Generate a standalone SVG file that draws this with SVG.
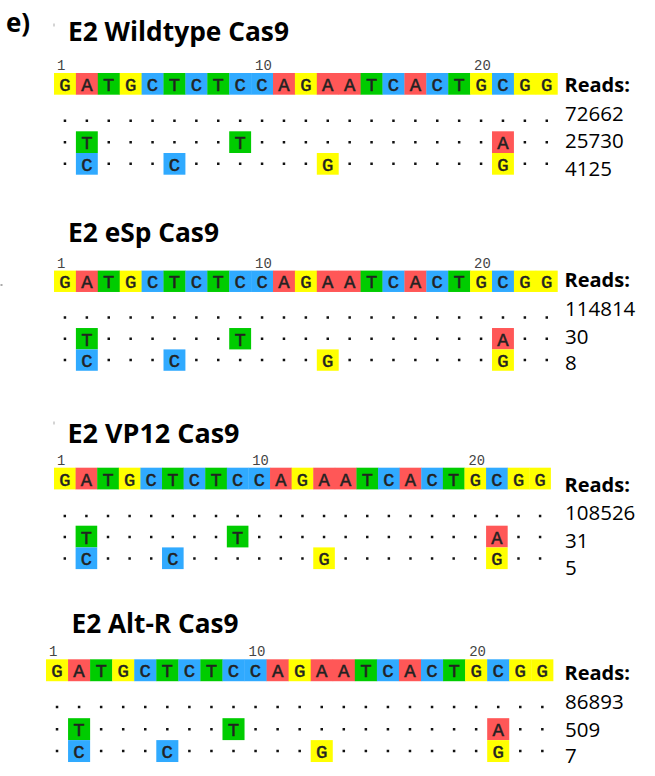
<svg xmlns="http://www.w3.org/2000/svg" width="655" height="776" viewBox="0 0 655 776">
<style>
.ti{font-family:"Open Sans","Liberation Sans",sans-serif;font-weight:700;font-size:26px;fill:#000}
.rd{font-family:"Open Sans","Liberation Sans",sans-serif;font-weight:700;font-size:20px;fill:#000}
.nm{font-family:"Open Sans","Liberation Sans",sans-serif;font-size:20.5px;fill:#000}
.ps{font-family:"Liberation Mono","DejaVu Sans Mono",monospace;font-size:14px;fill:#444}
.bs{font-family:"Liberation Mono","DejaVu Sans Mono",monospace;font-size:19px;fill:#222;stroke:#222;stroke-width:0.5;text-anchor:middle}
.Y{fill:#ffff00}.R{fill:#ff5757}.G{fill:#00cc00}.B{fill:#30aaff}
.dt{stroke:#111;stroke-width:2.5;stroke-dasharray:2.5 19.5;fill:none}
.art{fill:#aaa}
</style>
<text class="ti" x="6" y="32" font-size="25">e)</text>
<rect class="art" x="53.5" y="23.5" width="1" height="3"/>
<rect class="art" x="0.5" y="284" width="2" height="2"/>
<rect class="art" x="53.5" y="421.5" width="1" height="3"/>

<g id="labels">
<text class="ti" x="68" y="40.7" textLength="221" lengthAdjust="spacingAndGlyphs">E2 Wildtype Cas9</text>
<text class="rd" x="564.5" y="91.7">Reads:</text>
<text class="nm" x="565" y="120.5">72662</text>
<text class="nm" x="565" y="148.3">25730</text>
<text class="nm" x="565" y="175.7">4125</text>

<text class="ti" x="68" y="242.3" textLength="151" lengthAdjust="spacingAndGlyphs">E2 eSp Cas9</text>
<text class="rd" x="564.5" y="286.7">Reads:</text>
<text class="nm" x="565" y="315.7">114814</text>
<text class="nm" x="565" y="344">30</text>
<text class="nm" x="565" y="370">8</text>

<text class="ti" x="67.5" y="442.7" textLength="172" lengthAdjust="spacingAndGlyphs">E2 VP12 Cas9</text>
<text class="rd" x="564.5" y="491.7">Reads:</text>
<text class="nm" x="565" y="520">108526</text>
<text class="nm" x="565" y="548.3">31</text>
<text class="nm" x="565" y="575">5</text>

<text class="ti" x="71.5" y="632.7" textLength="167" lengthAdjust="spacingAndGlyphs">E2 Alt-R Cas9</text>
<text class="rd" x="564.5" y="680">Reads:</text>
<text class="nm" x="565" y="709">86893</text>
<text class="nm" x="565" y="736.7">509</text>
<text class="nm" x="565" y="763.3">7</text>
</g>

<g id="block1" transform="translate(54,73) scale(0.9955,1)">
<text class="ps" x="3" y="-3">1</text><text class="ps" x="202" y="-3">10</text><text class="ps" x="422" y="-3">20</text>
<rect class="Y" x="0" y="0" width="22.3" height="21.7"/><rect class="R" x="22" y="0" width="22.3" height="21.7"/><rect class="G" x="44" y="0" width="22.3" height="21.7"/><rect class="Y" x="66" y="0" width="22.3" height="21.7"/><rect class="B" x="88" y="0" width="22.3" height="21.7"/><rect class="G" x="110" y="0" width="22.3" height="21.7"/><rect class="B" x="132" y="0" width="22.3" height="21.7"/><rect class="G" x="154" y="0" width="22.3" height="21.7"/><rect class="B" x="176" y="0" width="22.3" height="21.7"/><rect class="B" x="198" y="0" width="22.3" height="21.7"/><rect class="R" x="220" y="0" width="22.3" height="21.7"/><rect class="Y" x="242" y="0" width="22.3" height="21.7"/><rect class="R" x="264" y="0" width="22.3" height="21.7"/><rect class="R" x="286" y="0" width="22.3" height="21.7"/><rect class="G" x="308" y="0" width="22.3" height="21.7"/><rect class="B" x="330" y="0" width="22.3" height="21.7"/><rect class="R" x="352" y="0" width="22.3" height="21.7"/><rect class="B" x="374" y="0" width="22.3" height="21.7"/><rect class="G" x="396" y="0" width="22.3" height="21.7"/><rect class="Y" x="418" y="0" width="22.3" height="21.7"/><rect class="B" x="440" y="0" width="22.3" height="21.7"/><rect class="Y" x="462" y="0" width="22.3" height="21.7"/><rect class="Y" x="484" y="0" width="22" height="21.7"/>
<text class="bs" x="11 33 55 77 99 121 143 165 187 209 231 253 275 297 319 341 363 385 407 429 451 473 495" y="18">GATGCTCTCCAGAATCACTGCGG</text>
<line class="dt" x1="9.75" y1="47.7" x2="496.25" y2="47.7"/><line class="dt" x1="9.75" y1="69.2" x2="496.25" y2="69.2"/><line class="dt" x1="9.75" y1="90.8" x2="496.25" y2="90.8"/>
<rect class="G" x="22" y="58.3" width="22" height="21.7"/><rect class="G" x="176" y="58.3" width="22" height="21.7"/><rect class="R" x="440" y="58.3" width="22" height="21.7"/>
<text class="bs" x="33" y="76.3">T</text><text class="bs" x="187" y="76.3">T</text><text class="bs" x="451" y="76.3">A</text>
<rect class="B" x="22" y="80" width="22" height="21.7"/><rect class="B" x="110" y="80" width="22" height="21.7"/><rect class="Y" x="264" y="80" width="22" height="21.7"/><rect class="Y" x="440" y="80" width="22" height="21.7"/>
<text class="bs" x="33" y="98">C</text><text class="bs" x="121" y="98">C</text><text class="bs" x="275" y="98">G</text><text class="bs" x="451" y="98">G</text>
</g>

<g id="block2" transform="translate(54,270.6) scale(0.9955,0.985)">
<text class="ps" x="3" y="-3">1</text><text class="ps" x="202" y="-3">10</text><text class="ps" x="422" y="-3">20</text>
<rect class="Y" x="0" y="0" width="22.3" height="21.7"/><rect class="R" x="22" y="0" width="22.3" height="21.7"/><rect class="G" x="44" y="0" width="22.3" height="21.7"/><rect class="Y" x="66" y="0" width="22.3" height="21.7"/><rect class="B" x="88" y="0" width="22.3" height="21.7"/><rect class="G" x="110" y="0" width="22.3" height="21.7"/><rect class="B" x="132" y="0" width="22.3" height="21.7"/><rect class="G" x="154" y="0" width="22.3" height="21.7"/><rect class="B" x="176" y="0" width="22.3" height="21.7"/><rect class="B" x="198" y="0" width="22.3" height="21.7"/><rect class="R" x="220" y="0" width="22.3" height="21.7"/><rect class="Y" x="242" y="0" width="22.3" height="21.7"/><rect class="R" x="264" y="0" width="22.3" height="21.7"/><rect class="R" x="286" y="0" width="22.3" height="21.7"/><rect class="G" x="308" y="0" width="22.3" height="21.7"/><rect class="B" x="330" y="0" width="22.3" height="21.7"/><rect class="R" x="352" y="0" width="22.3" height="21.7"/><rect class="B" x="374" y="0" width="22.3" height="21.7"/><rect class="G" x="396" y="0" width="22.3" height="21.7"/><rect class="Y" x="418" y="0" width="22.3" height="21.7"/><rect class="B" x="440" y="0" width="22.3" height="21.7"/><rect class="Y" x="462" y="0" width="22.3" height="21.7"/><rect class="Y" x="484" y="0" width="22" height="21.7"/>
<text class="bs" x="11 33 55 77 99 121 143 165 187 209 231 253 275 297 319 341 363 385 407 429 451 473 495" y="18">GATGCTCTCCAGAATCACTGCGG</text>
<line class="dt" x1="9.75" y1="47.7" x2="496.25" y2="47.7"/><line class="dt" x1="9.75" y1="69.2" x2="496.25" y2="69.2"/><line class="dt" x1="9.75" y1="90.8" x2="496.25" y2="90.8"/>
<rect class="G" x="22" y="58.3" width="22" height="21.7"/><rect class="G" x="176" y="58.3" width="22" height="21.7"/><rect class="R" x="440" y="58.3" width="22" height="21.7"/>
<text class="bs" x="33" y="76.3">T</text><text class="bs" x="187" y="76.3">T</text><text class="bs" x="451" y="76.3">A</text>
<rect class="B" x="22" y="80" width="22" height="21.7"/><rect class="B" x="110" y="80" width="22" height="21.7"/><rect class="Y" x="264" y="80" width="22" height="21.7"/><rect class="Y" x="440" y="80" width="22" height="21.7"/>
<text class="bs" x="33" y="98">C</text><text class="bs" x="121" y="98">C</text><text class="bs" x="275" y="98">G</text><text class="bs" x="451" y="98">G</text>
</g>

<g id="block3" transform="translate(54,467.7) scale(0.982,1)">
<text class="ps" x="3" y="-3">1</text><text class="ps" x="202" y="-3">10</text><text class="ps" x="422" y="-3">20</text>
<rect class="Y" x="0" y="0" width="22.3" height="21.7"/><rect class="R" x="22" y="0" width="22.3" height="21.7"/><rect class="G" x="44" y="0" width="22.3" height="21.7"/><rect class="Y" x="66" y="0" width="22.3" height="21.7"/><rect class="B" x="88" y="0" width="22.3" height="21.7"/><rect class="G" x="110" y="0" width="22.3" height="21.7"/><rect class="B" x="132" y="0" width="22.3" height="21.7"/><rect class="G" x="154" y="0" width="22.3" height="21.7"/><rect class="B" x="176" y="0" width="22.3" height="21.7"/><rect class="B" x="198" y="0" width="22.3" height="21.7"/><rect class="R" x="220" y="0" width="22.3" height="21.7"/><rect class="Y" x="242" y="0" width="22.3" height="21.7"/><rect class="R" x="264" y="0" width="22.3" height="21.7"/><rect class="R" x="286" y="0" width="22.3" height="21.7"/><rect class="G" x="308" y="0" width="22.3" height="21.7"/><rect class="B" x="330" y="0" width="22.3" height="21.7"/><rect class="R" x="352" y="0" width="22.3" height="21.7"/><rect class="B" x="374" y="0" width="22.3" height="21.7"/><rect class="G" x="396" y="0" width="22.3" height="21.7"/><rect class="Y" x="418" y="0" width="22.3" height="21.7"/><rect class="B" x="440" y="0" width="22.3" height="21.7"/><rect class="Y" x="462" y="0" width="22.3" height="21.7"/><rect class="Y" x="484" y="0" width="22" height="21.7"/>
<text class="bs" x="11 33 55 77 99 121 143 165 187 209 231 253 275 297 319 341 363 385 407 429 451 473 495" y="18">GATGCTCTCCAGAATCACTGCGG</text>
<line class="dt" x1="9.75" y1="48.3" x2="496.25" y2="48.3"/><line class="dt" x1="9.75" y1="69.2" x2="496.25" y2="69.2"/><line class="dt" x1="9.75" y1="90.8" x2="496.25" y2="90.8"/>
<rect class="G" x="22" y="58" width="22" height="21.7"/><rect class="G" x="176" y="58" width="22" height="21.7"/><rect class="R" x="440" y="58" width="22" height="21.7"/>
<text class="bs" x="33" y="76">T</text><text class="bs" x="187" y="76">T</text><text class="bs" x="451" y="76">A</text>
<rect class="B" x="22" y="79.7" width="22" height="21.7"/><rect class="B" x="110" y="79.7" width="22" height="21.7"/><rect class="Y" x="264" y="79.7" width="22" height="21.7"/><rect class="Y" x="440" y="79.7" width="22" height="21.7"/>
<text class="bs" x="33" y="97.7">C</text><text class="bs" x="121" y="97.7">C</text><text class="bs" x="275" y="97.7">G</text><text class="bs" x="451" y="97.7">G</text>
</g>

<g id="block4" transform="translate(46,659.3) scale(1.0027,1.01)">
<text class="ps" x="3" y="-3">1</text><text class="ps" x="202" y="-3">10</text><text class="ps" x="422" y="-3">20</text>
<rect class="Y" x="0" y="0" width="22.3" height="21.7"/><rect class="R" x="22" y="0" width="22.3" height="21.7"/><rect class="G" x="44" y="0" width="22.3" height="21.7"/><rect class="Y" x="66" y="0" width="22.3" height="21.7"/><rect class="B" x="88" y="0" width="22.3" height="21.7"/><rect class="G" x="110" y="0" width="22.3" height="21.7"/><rect class="B" x="132" y="0" width="22.3" height="21.7"/><rect class="G" x="154" y="0" width="22.3" height="21.7"/><rect class="B" x="176" y="0" width="22.3" height="21.7"/><rect class="B" x="198" y="0" width="22.3" height="21.7"/><rect class="R" x="220" y="0" width="22.3" height="21.7"/><rect class="Y" x="242" y="0" width="22.3" height="21.7"/><rect class="R" x="264" y="0" width="22.3" height="21.7"/><rect class="R" x="286" y="0" width="22.3" height="21.7"/><rect class="G" x="308" y="0" width="22.3" height="21.7"/><rect class="B" x="330" y="0" width="22.3" height="21.7"/><rect class="R" x="352" y="0" width="22.3" height="21.7"/><rect class="B" x="374" y="0" width="22.3" height="21.7"/><rect class="G" x="396" y="0" width="22.3" height="21.7"/><rect class="Y" x="418" y="0" width="22.3" height="21.7"/><rect class="B" x="440" y="0" width="22.3" height="21.7"/><rect class="Y" x="462" y="0" width="22.3" height="21.7"/><rect class="Y" x="484" y="0" width="22" height="21.7"/>
<text class="bs" x="11 33 55 77 99 121 143 165 187 209 231 253 275 297 319 341 363 385 407 429 451 473 495" y="18">GATGCTCTCCAGAATCACTGCGG</text>
<line class="dt" x1="9.75" y1="47.2" x2="496.25" y2="47.2"/><line class="dt" x1="9.75" y1="69.2" x2="496.25" y2="69.2"/><line class="dt" x1="9.75" y1="90.8" x2="496.25" y2="90.8"/>
<rect class="G" x="22" y="58.3" width="22" height="21.7"/><rect class="G" x="176" y="58.3" width="22" height="21.7"/><rect class="R" x="440" y="58.3" width="22" height="21.7"/>
<text class="bs" x="33" y="76.3">T</text><text class="bs" x="187" y="76.3">T</text><text class="bs" x="451" y="76.3">A</text>
<rect class="B" x="22" y="80" width="22" height="21.7"/><rect class="B" x="110" y="80" width="22" height="21.7"/><rect class="Y" x="264" y="80" width="22" height="21.7"/><rect class="Y" x="440" y="80" width="22" height="21.7"/>
<text class="bs" x="33" y="98">C</text><text class="bs" x="121" y="98">C</text><text class="bs" x="275" y="98">G</text><text class="bs" x="451" y="98">G</text>
</g>
</svg>
